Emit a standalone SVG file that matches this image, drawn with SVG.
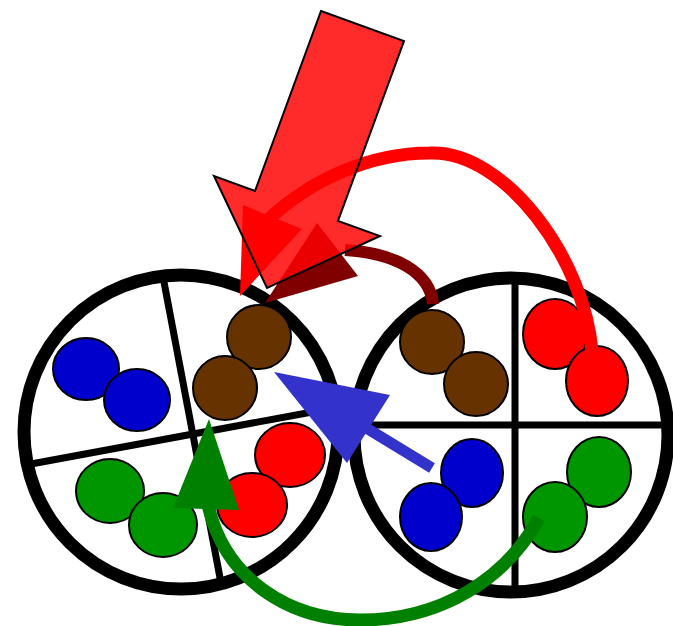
<svg xmlns="http://www.w3.org/2000/svg" width="673" height="626" viewBox="0 0 673 626">
<style>
.ring{fill:none;stroke:#000;stroke-width:13}
.div{stroke:#000;stroke-width:7;fill:none}
.ball{stroke:#000;stroke-width:2}
.blue{fill:#0000cc}
.brown{fill:#663300}
.red{fill:#ff0000}
.green{fill:#009600}
.curve{fill:none}
</style>
<rect width="673" height="626" fill="#fff"/>
<g id="left-wheel">
<circle class="ring" cx="181" cy="432" r="157"/>
<line class="div" x1="164" y1="282" x2="221" y2="583"/>
<line class="div" x1="31" y1="464" x2="334" y2="408"/>
<ellipse class="ball blue" cx="86" cy="369" rx="33" ry="31"/>
<ellipse class="ball blue" cx="137" cy="400" rx="33" ry="31"/>
<ellipse class="ball brown" cx="259" cy="337" rx="32" ry="32"/>
<ellipse class="ball brown" cx="225" cy="388" rx="32" ry="32"/>
<ellipse class="ball red" cx="290" cy="455" rx="35" ry="32"/>
<ellipse class="ball red" cx="252" cy="505" rx="35" ry="32"/>
<ellipse class="ball green" cx="110" cy="491" rx="34" ry="32"/>
<ellipse class="ball green" cx="163" cy="525" rx="34" ry="32"/>
</g>
<g id="right-wheel">
<circle class="ring" cx="511" cy="435" r="157"/>
<line class="div" x1="515" y1="284" x2="515" y2="587" stroke-width="6"/>
<line class="div" x1="361" y1="425" x2="664" y2="425" stroke-width="6"/>
<ellipse class="ball brown" cx="432" cy="342" rx="32" ry="32"/>
<ellipse class="ball brown" cx="476" cy="384" rx="32" ry="32"/>
<ellipse class="ball red" cx="555" cy="334" rx="32" ry="35"/>
<ellipse class="ball red" cx="597" cy="381" rx="31" ry="35"/>
<ellipse class="ball blue" cx="472" cy="473" rx="31" ry="34"/>
<ellipse class="ball blue" cx="431" cy="517" rx="31" ry="34"/>
<ellipse class="ball green" cx="599" cy="472" rx="32" ry="35"/>
<ellipse class="ball green" cx="555" cy="517" rx="32" ry="35"/>
</g>
<g id="connectors">
<path class="curve" d="M 592,352 C 585,260 505,150 430,153 C 370,153 310,180 268,220" stroke="#ff0000" stroke-width="13"/>
<polygon points="243,205 302,229 240,296" fill="#ff0000"/>
<path class="curve" d="M 433,304 C 430,272 395,253 345,250" stroke="#800000" stroke-width="12"/>
<polygon points="317,223 358,276 265,303" fill="#800000"/>
<line x1="432" y1="468" x2="345" y2="415" stroke="#3333cc" stroke-width="11"/>
<polygon points="274,372 390,395 347,463" fill="#3333cc"/>
<path class="curve" d="M 539,518 C 505,580 440,620 360,620 C 290,620 225,580 208,505" stroke="#008000" stroke-width="13"/>
<polygon points="209,419 173,508 239,510" fill="#008000"/>
</g>
<g id="big-arrow">
<polygon points="321,11 404,41 338,221 380,236 267,288 214,176 255,191" fill="#ff0000" fill-opacity="0.83" stroke="#000" stroke-width="2" stroke-linejoin="miter"/>
</g>
</svg>
